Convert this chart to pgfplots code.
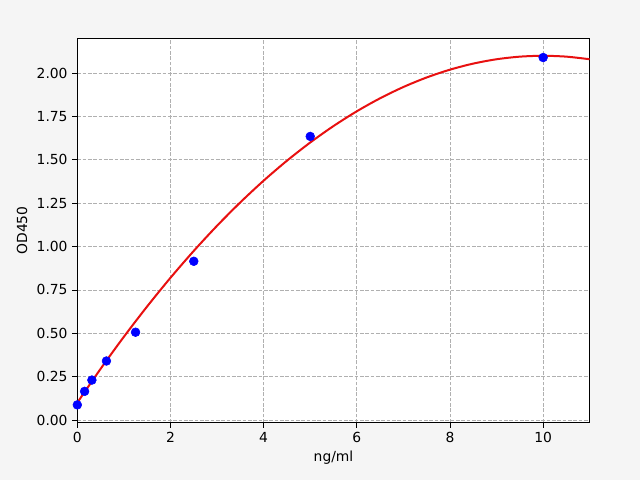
\documentclass[border=0pt]{standalone}
\usepackage{pgfplots}
\pgfplotsset{compat=1.18}
\usepackage{fontspec}
\setmainfont{DejaVu Sans}
\definecolor{bgc}{HTML}{F5F5F5}
\definecolor{gridc}{HTML}{B0B0B0}
\definecolor{curvec}{HTML}{E81010}
\begin{document}
\fontsize{10.4}{12.5}\selectfont
\begin{tikzpicture}
\fill[bgc] (0,0) rectangle (480pt,360pt);
\begin{axis}[
  at={(58pt,43pt)}, anchor=south west,
  scale only axis, width=384.3pt, height=288.3pt,
  xmin=0, xmax=11, ymin=-0.0156, ymax=2.201,
  xtick={0,2,4,6,8,10},
  ytick={0,0.25,0.5,0.75,1,1.25,1.5,1.75,2},
  /pgf/number format/assume math mode=true,
  yticklabel style={/pgf/number format/.cd,fixed,fixed zerofill,precision=2},
  xticklabel style={/pgf/number format/.cd,fixed},
  tick align=outside, major tick length=3.65pt,
  tick style={black, line width=0.6pt},
  xtick pos=bottom, ytick pos=left,
  axis line style={black, line width=0.6pt},
  grid=major,
  major grid style={gridc, dashed, line width=0.6pt, dash pattern=on 2.8pt off 1.2pt},
  axis background/.style={fill=white},
  xlabel={ng/ml}, ylabel={OD450},
  xlabel style={at={(axis description cs:0.5,-0.092)}, anchor=center},
  ylabel style={at={(axis description cs:-0.108,0.5)}, anchor=center, rotate=0},
  every tick label/.append style={font=\fontsize{10.4}{12.5}\selectfont},
  clip=true,
]
\addplot[only marks, mark=*, mark size=3.3pt, color=blue, mark options={fill=blue, draw=blue}] coordinates {
(0,0.087) (0.156,0.165) (0.3125,0.23) (0.625,0.34) (1.25,0.506) (2.5,0.915) (5,1.635) (10,2.09)
};
\addplot[color=curvec, line width=1.5pt, smooth, no marks] coordinates {
(0,0.100) (0.5,0.295) (1,0.480) (1.5,0.655) (2,0.820) (2.5,0.975) (3,1.120) (3.5,1.255)
(4,1.380) (4.5,1.495) (5,1.600) (5.5,1.695) (6,1.780) (6.5,1.855) (7,1.920) (7.5,1.975)
(8,2.020) (8.5,2.055) (9,2.080) (9.5,2.095) (10,2.100) (10.5,2.095) (11,2.080)
};
\end{axis}
\end{tikzpicture}
\end{document}
